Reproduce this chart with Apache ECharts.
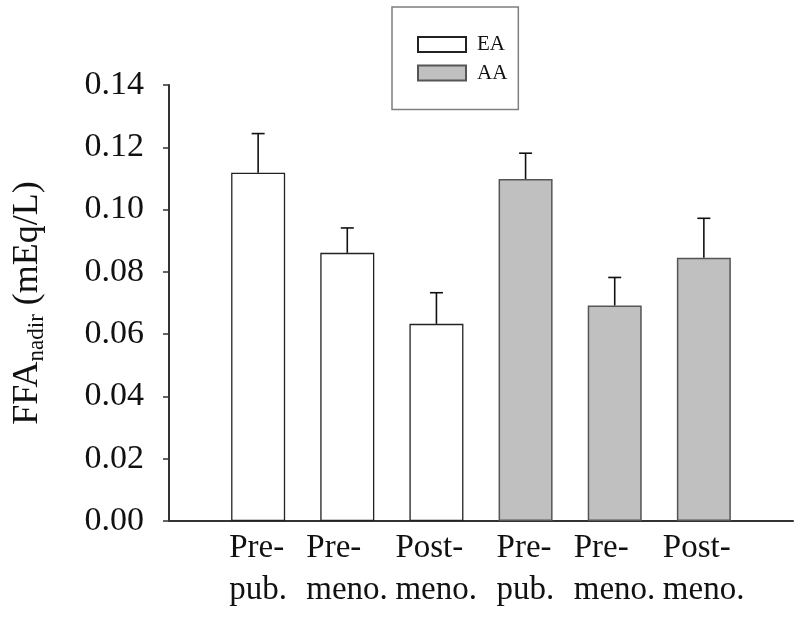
<!DOCTYPE html>
<html>
<head>
<meta charset="utf-8">
<script src="https://cdn.jsdelivr.net/npm/echarts@6/dist/echarts.min.js"></script>
<style>
html,body{margin:0;padding:0;background:#fff;}
#c{width:800px;height:617px;}
</style>
</head>
<body>
<div id="c"></div>
<script>
var categories = ['Pre-\npub.', 'Pre-\nmeno.', 'Post-\nmeno.', 'Pre-\npub.', 'Pre-\nmeno.', 'Post-\nmeno.'];
var eaPos = [1, 2, 3];
var aaPos = [4, 5, 6];
var eaMean = [0.1118, 0.0861, 0.0633];
var eaErr = [0.0126, 0.0080, 0.0100];
var aaMean = [0.1098, 0.0692, 0.0845];
var aaErr = [0.0083, 0.0090, 0.0127];
var yTicks = { min: 0, max: 0.14, interval: 0.02 };

var FONT = '"Liberation Serif", "Times New Roman", serif';
var XFS = 33;
var XLH = 42;

// measure each label block so its lines can be left-aligned within the block
var mctx = document.createElement('canvas').getContext('2d');
mctx.font = XFS + 'px ' + FONT;
var xRich = {};
categories.forEach(function (c, i) {
  var w = Math.max.apply(null, c.split('\n').map(function (s) { return mctx.measureText(s).width; }));
  xRich['w' + i] = { width: Math.ceil(w), align: 'left', fontFamily: FONT, fontSize: XFS, lineHeight: XLH, color: '#111' };
});

function pairs(pos, vals) { return pos.map(function (p, i) { return [p, vals[i]]; }); }
function errData(pos, m, e) { return pos.map(function (p, i) { return [p, m[i], e[i]]; }); }

function renderErr(params, api) {
  var x = api.value(0), m = api.value(1), e = api.value(2);
  var p0 = api.coord([x, m]);
  var p1 = api.coord([x, m + e]);
  var hw = 6.5;
  var st = { stroke: '#111', lineWidth: 1.6 };
  return {
    type: 'group',
    children: [
      { type: 'line', shape: { x1: p0[0], y1: p0[1], x2: p1[0], y2: p1[1] }, style: st },
      { type: 'line', shape: { x1: p1[0] - hw, y1: p1[1], x2: p1[0] + hw, y2: p1[1] }, style: st }
    ]
  };
}

var chart = echarts.init(document.getElementById('c'), null, { renderer: 'canvas' });
chart.setOption({
  animation: false,
  backgroundColor: '#ffffff',
  grid: { left: 169, right: 7, top: 85, bottom: 96, containLabel: false },
  legend: {
    data: ['EA', 'AA'],
    orient: 'vertical',
    left: 392, top: 7,
    padding: [27, 11, 26, 25],
    itemWidth: 48, itemHeight: 15, itemGap: 7.5,
    icon: 'rect',
    selectedMode: false,
    borderColor: '#7f7f7f', borderWidth: 1.5,
    textStyle: { fontFamily: FONT, fontSize: 21, lineHeight: 21, color: '#111', padding: [0, 0, 0, 6] }
  },
  xAxis: {
    type: 'value', min: 0, max: 7, interval: 1,
    splitLine: { show: false },
    axisTick: { show: false },
    axisLine: { show: true, lineStyle: { color: '#333', width: 2 } },
    axisLabel: {
      show: true, margin: 6,
      fontFamily: FONT, fontSize: XFS, lineHeight: XLH, color: '#111',
      rich: xRich,
      formatter: function (v) {
        var i = Math.round(v) - 1;
        if (i < 0 || i >= categories.length) return '';
        return categories[i].split('\n').map(function (s) { return '{w' + i + '|' + s + '}'; }).join('\n');
      }
    }
  },
  yAxis: {
    type: 'value', min: yTicks.min, max: yTicks.max, interval: yTicks.interval,
    splitLine: { show: false },
    axisLine: { show: true, lineStyle: { color: '#333', width: 2 } },
    axisTick: { show: true, inside: false, length: 6, lineStyle: { color: '#333', width: 1.5 } },
    axisLabel: {
      margin: 25, fontFamily: FONT, fontSize: 34, color: '#111',
      formatter: function (v) { return v.toFixed(2); }
    },
    name: '{a|FFA}{s|nadir}{a| (mEq/L)}',
    nameLocation: 'middle',
    nameRotate: 90,
    nameGap: 121,
    nameTextStyle: {
      fontFamily: FONT, color: '#111',
      rich: {
        a: { fontFamily: FONT, fontSize: 36, lineHeight: 40, color: '#111' },
        s: { fontFamily: FONT, fontSize: 23, lineHeight: 24, verticalAlign: 'bottom', color: '#111' }
      }
    }
  },
  series: [
    {
      name: 'EA', type: 'bar', barWidth: 54, barGap: '-100%',
      data: pairs(eaPos, eaMean),
      itemStyle: { color: '#ffffff', borderColor: '#222', borderWidth: 1.3 },
      z: 2
    },
    {
      name: 'AA', type: 'bar', barWidth: 54, barGap: '-100%',
      data: pairs(aaPos, aaMean),
      itemStyle: { color: '#c0c0c0', borderColor: '#555', borderWidth: 1.5 },
      z: 2
    },
    {
      type: 'custom', renderItem: renderErr, z: 3,
      data: errData(eaPos, eaMean, eaErr)
    },
    {
      type: 'custom', renderItem: renderErr, z: 3,
      data: errData(aaPos, aaMean, aaErr)
    }
  ]
});
</script>
</body>
</html>
